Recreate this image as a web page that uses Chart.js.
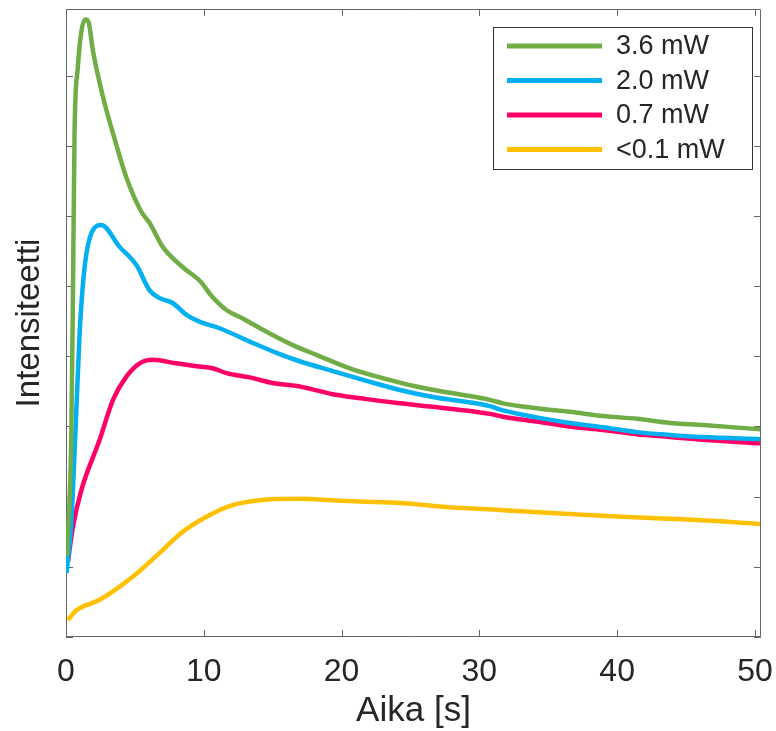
<!DOCTYPE html>
<html>
<head>
<meta charset="utf-8">
<script src="https://cdn.jsdelivr.net/npm/chart.js@4"></script>
<style>
  body { margin: 0; background: #fff; }
</style>
</head>
<body>
<canvas id="chart" width="776" height="731"></canvas>
<script>
const xTicks = [0, 10, 20, 30, 40, 50];
const yTicks = [0, 1, 2, 3, 4, 5, 6, 7, 8];
const labels = ['3.6 mW', '2.0 mW', '0.7 mW', '<0.1 mW'];
const colors = ['#70AD47', '#00B0F0', '#FF0066', '#FFC000'];

const t36 = [0.05, 0.38, 0.5, 0.62, 0.86, 1.13, 1.42, 1.64, 1.95, 2.68, 3.41, 4.38, 5.47, 6.07, 7.02, 8.48, 9.79, 10.52, 11.64, 12.83, 14.55, 16.46, 18.18, 20.59, 22.99, 25.44, 27.86, 30.76, 31.71, 34.15, 36.57, 38.97, 41.42, 43.83, 46.23, 50.37];
const i36 = [1.15, 2.81, 4.8, 7.18, 8.12, 8.65, 8.8, 8.76, 8.36, 7.7, 7.18, 6.55, 6.06, 5.9, 5.56, 5.27, 5.06, 4.87, 4.66, 4.54, 4.35, 4.16, 4.02, 3.83, 3.69, 3.57, 3.48, 3.38, 3.33, 3.26, 3.21, 3.15, 3.11, 3.05, 3.02, 2.96];

const t20 = [0.04, 0.38, 0.66, 0.99, 1.35, 1.95, 2.56, 3.89, 5.11, 6.07, 6.8, 7.74, 8.74, 9.72, 11.15, 13.33, 15.27, 16.96, 19.36, 21.81, 24.23, 26.62, 30.76, 31.71, 34.15, 36.57, 38.97, 41.42, 43.83, 46.23, 50.37];
const i20 = [0.91, 1.62, 2.81, 4.33, 5.27, 5.8, 5.87, 5.56, 5.3, 4.94, 4.83, 4.76, 4.59, 4.49, 4.4, 4.21, 4.05, 3.93, 3.79, 3.65, 3.52, 3.42, 3.29, 3.23, 3.13, 3.05, 2.99, 2.92, 2.88, 2.85, 2.82];

const t07 = [0.14, 0.5, 1.11, 2.44, 3.41, 4.38, 5.35, 6.31, 8.01, 9.46, 10.65, 11.64, 13.33, 15.0, 16.96, 19.36, 21.81, 24.23, 26.62, 30.76, 31.71, 34.15, 36.57, 38.97, 41.42, 43.83, 46.23, 50.37];
const i07 = [1.07, 1.57, 2.09, 2.81, 3.38, 3.71, 3.9, 3.95, 3.9, 3.86, 3.83, 3.76, 3.7, 3.62, 3.57, 3.46, 3.39, 3.33, 3.28, 3.18, 3.14, 3.07, 3.0, 2.95, 2.89, 2.85, 2.81, 2.76];

const t01 = [0.14, 0.75, 2.44, 4.84, 6.8, 8.47, 10.43, 12.1, 14.06, 16.96, 20.09, 21.32, 24.23, 27.86, 31.49, 35.85, 40.69, 45.5, 50.37];
const i01 = [0.24, 0.38, 0.53, 0.86, 1.2, 1.5, 1.74, 1.88, 1.95, 1.97, 1.94, 1.93, 1.91, 1.85, 1.81, 1.76, 1.71, 1.67, 1.61];

const times = [t36, t20, t07, t01];
const values = [i36, i20, i07, i01];

const font = "'Liberation Sans', Arial, sans-serif";
const textColor = '#262626';

// box round the plot with inward ticks on all four sides
const frame = {
  id: 'frame',
  beforeDatasetsDraw(chart) {
    const { ctx, chartArea: a, scales: { x, y } } = chart;
    ctx.save();
    ctx.strokeStyle = '#666';
    ctx.lineWidth = 1;
    ctx.beginPath();
    ctx.rect(Math.round(a.left) + 0.5, Math.round(a.top) + 0.5, Math.round(a.width) - 1, Math.round(a.height) - 1);
    x.ticks.forEach(t => {
      const px = Math.round(x.getPixelForValue(t.value)) + 0.5;
      ctx.moveTo(px, a.bottom); ctx.lineTo(px, a.bottom - 7);
      ctx.moveTo(px, a.top); ctx.lineTo(px, a.top + 7);
    });
    y.ticks.forEach(t => {
      const py = Math.round(y.getPixelForValue(t.value)) + 0.5;
      ctx.moveTo(a.left, py); ctx.lineTo(a.left + 7, py);
      ctx.moveTo(a.right, py); ctx.lineTo(a.right - 7, py);
    });
    ctx.stroke();
    ctx.restore();
  }
};

// boxed legend in the upper right corner
const boxLegend = {
  id: 'boxLegend',
  afterDraw(chart) {
    const { ctx } = chart;
    const x0 = 493, y0 = 27, w = 259, h = 142;
    ctx.save();
    ctx.fillStyle = '#fff';
    ctx.fillRect(x0, y0, w, h);
    ctx.strokeStyle = '#333';
    ctx.lineWidth = 1;
    ctx.strokeRect(x0 + 0.5, y0 + 0.5, w, h);
    ctx.font = '27px ' + font;
    ctx.textBaseline = 'middle';
    chart.data.datasets.forEach((ds, i) => {
      const ry = y0 + 19 + i * 34.5;
      ctx.strokeStyle = ds.borderColor;
      ctx.lineWidth = 5;
      ctx.beginPath();
      ctx.moveTo(507, ry); ctx.lineTo(602, ry);
      ctx.stroke();
      ctx.fillStyle = textColor;
      ctx.fillText(ds.label, 616, ry + 1);
    });
    ctx.restore();
  }
};

new Chart(document.getElementById('chart'), {
  type: 'line',
  data: {
    datasets: labels.map((label, i) => ({
      label: label,
      data: times[i].map((t, j) => ({ x: t, y: values[i][j] })),
      borderColor: colors[i],
      borderWidth: 4.5,
      pointRadius: 0,
      cubicInterpolationMode: 'monotone'
    }))
  },
  options: {
    responsive: false,
    animation: false,
    layout: { padding: { top: 9, right: 15, left: 0, bottom: 0 } },
    plugins: { legend: { display: false }, tooltip: { enabled: false } },
    scales: {
      x: {
        type: 'linear',
        min: 0,
        max: 50.44,
        afterBuildTicks: s => { s.ticks = xTicks.map(v => ({ value: v })); },
        afterFit: s => { s.height = 94; s.paddingLeft = 0; s.paddingRight = 0; },
        grid: { display: false },
        border: { display: false },
        ticks: { color: textColor, font: { family: font, size: 32 }, padding: 8, maxRotation: 0 },
        title: { display: true, text: 'Aika [s]', color: textColor, font: { family: font, size: 35 }, padding: { top: 0, bottom: -1 } }
      },
      y: {
        min: 0,
        max: 8.95,
        afterBuildTicks: s => { s.ticks = yTicks.map(v => ({ value: v })); },
        afterFit: s => { s.width = 66; s.paddingTop = 0; s.paddingBottom = 0; },
        grid: { display: false },
        border: { display: false },
        ticks: { display: false },
        title: { display: true, text: 'Intensiteetti', color: textColor, font: { family: font, size: 33 }, padding: { top: 10, bottom: 0 } }
      }
    }
  },
  plugins: [frame, boxLegend]
});
</script>
</body>
</html>
